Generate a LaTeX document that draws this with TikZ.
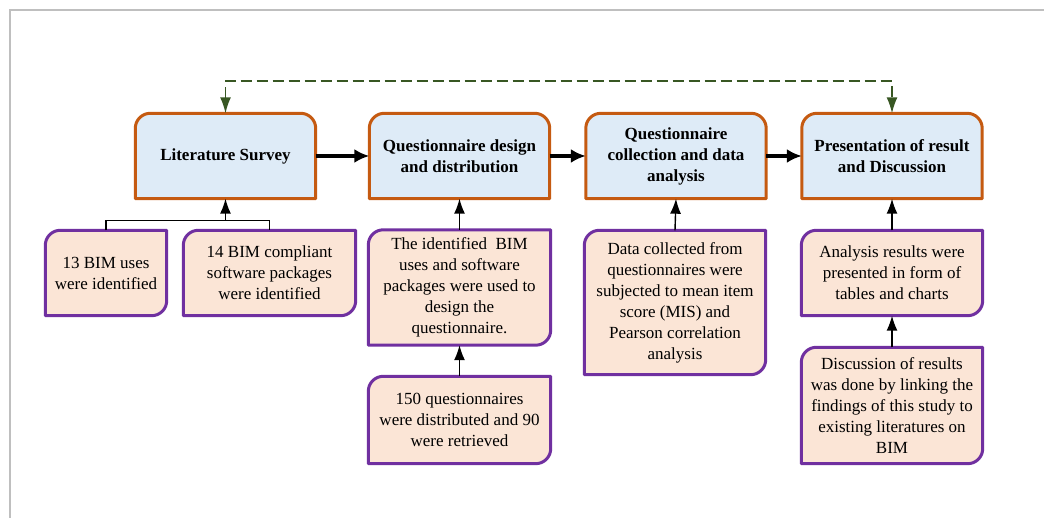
\documentclass[tikz,border=0pt]{standalone}
\usepackage{fontspec}
\setmainfont{Liberation Serif}
\usetikzlibrary{arrows.meta,backgrounds}

\definecolor{rimorange}{RGB}{197,90,17}
\definecolor{stepblue}{RGB}{222,235,247}
\definecolor{rimpurple}{RGB}{112,48,160}
\definecolor{notepeach}{RGB}{251,229,214}
\definecolor{loopgreen}{RGB}{56,87,35}
\definecolor{framegray}{RGB}{191,191,191}

\tikzset{
  stagebox/.style={minimum width=180pt,minimum height=85pt,inner sep=0pt,
    align=center,font=\bfseries\fontsize{17}{21}\selectfont},
  notebox/.style={inner sep=0pt,align=center,font=\fontsize{17}{21}\selectfont},
  stagerim/.style={draw=rimorange,fill=stepblue,line width=3pt,line join=round},
  noterim/.style={draw=rimpurple,fill=notepeach,line width=3pt,line join=round},
  flow/.style={-{Latex[length=15pt,width=14pt]},line width=3.2pt},
  link/.style={line width=1.4pt},
  linkarrow/.style={link,-{Latex[length=15pt,width=11pt]}},
  feedback/.style={draw=loopgreen,line width=1.6pt,dash pattern=on 11pt off 5pt,
    {Latex[length=16pt,width=11pt,fill=loopgreen]}-{Latex[length=16pt,width=11pt,fill=loopgreen]}}
}

\begin{document}
\begin{tikzpicture}[x=1pt,y=1pt]
  \useasboundingbox (0,0) rectangle (1044,518);

  % main stages
  \node[stagebox] (lit)  at (225.5,362) {Literature Survey};
  \node[stagebox] (qdes) at (459.5,362) {Questionnaire design\\and distribution};
  \node[stagebox] (qcol) at (676,362)   {Questionnaire\\collection and data\\analysis};
  \node[stagebox] (pres) at (892,362)   {Presentation of result\\and Discussion};

  % notes under the stages
  \node[notebox,minimum width=121pt,minimum height=85pt] (uses) at (106,245)
    {13 BIM uses\\were identified};
  \node[notebox,minimum width=172pt,minimum height=85pt] (soft) at (269.5,245)
    {14 BIM compliant\\software packages\\were identified};
  \node[notebox,minimum width=182pt,minimum height=115pt] (ident) at (459.5,230.5)
    {The identified~~BIM\\uses and software\\packages were used to\\design the\\questionnaire.};
  \node[notebox,minimum width=182pt,minimum height=87pt] (dist) at (459.5,98)
    {150 questionnaires\\were distributed and 90\\were retrieved};
  \node[notebox,minimum width=181pt,minimum height=144pt] (data) at (675,215.5)
    {Data collected from\\questionnaires were\\subjected to mean item\\score (MIS) and\\Pearson correlation\\analysis};
  \node[notebox,minimum width=181pt,minimum height=85pt] (anres) at (892,245)
    {Analysis results were\\presented in form of\\tables and charts};
  \node[notebox,minimum width=181pt,minimum height=116pt] (disc) at (892,112.5)
    {Discussion of results\\was done by linking the\\findings of this study to\\existing literatures on\\BIM};

  \begin{scope}[on background layer]
    \draw[framegray,line width=2pt] (10,0) -- (10,508) -- (1044,508);
    \foreach \n in {lit,qdes,qcol,pres}
      \draw[stagerim] (\n.south west) -- ([yshift=-15pt]\n.north west)
        arc[start angle=180,end angle=90,radius=15pt] -- ([xshift=-15pt]\n.north east)
        arc[start angle=90,end angle=0,radius=15pt] -- (\n.south east) -- cycle;
    \foreach \n in {uses,soft,ident,dist,data,anres,disc}
      \draw[noterim] (\n.north east) -- ([yshift=15pt]\n.south east)
        arc[start angle=0,end angle=-90,radius=15pt] -- (\n.south west)
        -- ([yshift=-15pt]\n.north west)
        arc[start angle=180,end angle=90,radius=15pt] -- cycle;
  \end{scope}

  % flow between stages
  \draw[flow] (lit.east) -- (qdes.west);
  \draw[flow] (qdes.east) -- (qcol.west);
  \draw[flow] (qcol.east) -- (pres.west);
  \draw[feedback] (lit.north) -- ++(0,32) -| (pres.north);

  % notes into stages
  \path (lit.south |- uses.north) ++(0,10) coordinate (join);
  \draw[link] (uses.north) |- (join) -| (soft.north);
  \draw[linkarrow] (join) -- (lit.south);
  \draw[linkarrow] (ident.north) -- (qdes.south);
  \draw[linkarrow] (dist.north) -- (ident.south);
  \draw[linkarrow] (data.north) -- (qcol.south);
  \draw[linkarrow] (anres.north) -- (pres.south);
  \draw[linkarrow] (disc.north) -- (anres.south);
\end{tikzpicture}
\end{document}
